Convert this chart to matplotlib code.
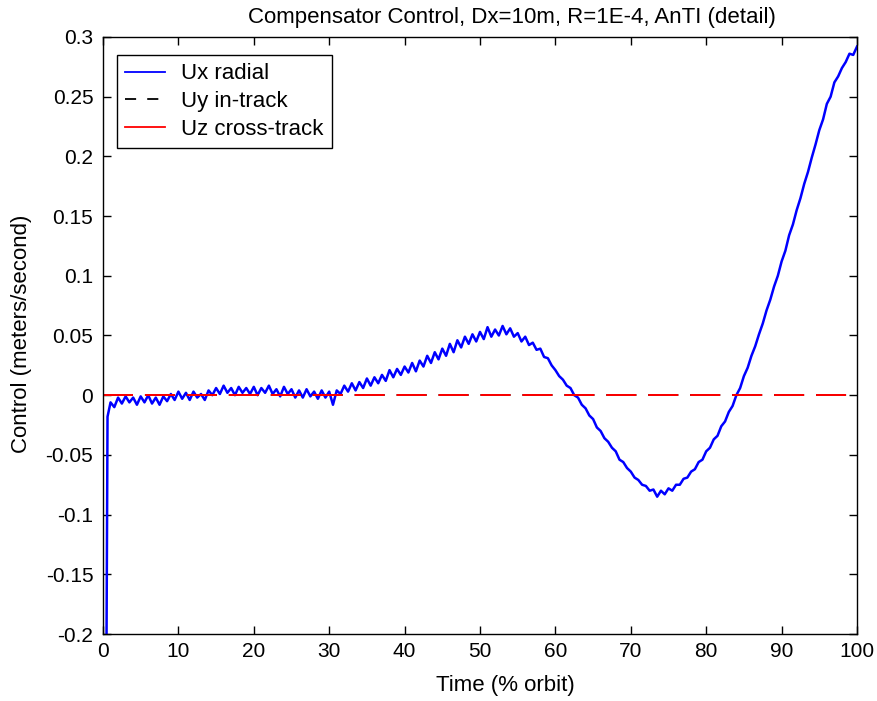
import matplotlib
matplotlib.use("Agg")
import matplotlib.pyplot as plt
from matplotlib.lines import Line2D

# ---- data ----
time_pct = [0.4, 0.6, 1.0, 1.5, 2.0, 2.5, 3.0, 3.5, 4.0, 4.5, 5.0, 5.5, 6.0, 6.5, 7.0, 7.5, 8.0, 8.5, 9.0, 9.5,
            10.0, 10.5, 11.0, 11.5, 12.0, 12.5, 13.0, 13.5, 14.0, 14.5, 15.0, 15.5, 16.0, 16.5, 17.0, 17.5, 18.0, 18.5, 19.0, 19.5,
            20.0, 20.5, 21.0, 21.5, 22.0, 22.5, 23.0, 23.5, 24.0, 24.5, 25.0, 25.5, 26.0, 26.5, 27.0, 27.5, 28.0, 28.5, 29.0, 29.5,
            30.0, 30.5, 31.0, 31.5, 32.0, 32.5, 33.0, 33.5, 34.0, 34.5, 35.0, 35.5, 36.0, 36.5, 37.0, 37.5, 38.0, 38.5, 39.0, 39.5,
            40.0, 40.5, 41.0, 41.5, 42.0, 42.5, 43.0, 43.5, 44.0, 44.5, 45.0, 45.5, 46.0, 46.5, 47.0, 47.5, 48.0, 48.5, 49.0, 49.5,
            50.0, 50.5, 51.0, 51.5, 52.0, 52.5, 53.0, 53.5, 54.0, 54.5, 55.0, 55.5, 56.0, 56.5, 57.0, 57.5, 58.0, 58.5, 59.0, 59.5,
            60.0, 60.5, 61.0, 61.5, 62.0, 62.5, 63.0, 63.5, 64.0, 64.5, 65.0, 65.5, 66.0, 66.5, 67.0, 67.5, 68.0, 68.5, 69.0, 69.5,
            70.0, 70.5, 71.0, 71.5, 72.0, 72.5, 73.0, 73.5, 74.0, 74.5, 75.0, 75.5, 76.0, 76.5, 77.0, 77.5, 78.0, 78.5, 79.0, 79.5,
            80.0, 80.5, 81.0, 81.5, 82.0, 82.5, 83.0, 83.5, 84.0, 84.5, 85.0, 85.5, 86.0, 86.5, 87.0, 87.5, 88.0, 88.5, 89.0, 89.5,
            90.0, 90.5, 91.0, 91.5, 92.0, 92.5, 93.0, 93.5, 94.0, 94.5, 95.0, 95.5, 96.0, 96.5, 97.0, 97.5, 98.0, 98.5, 99.0, 99.5,
            100.0]

ux_radial = [-0.300, -0.018, -0.006, -0.010, -0.002, -0.007, -0.001, -0.006, -0.002, -0.008, -0.001, -0.006, 0.000, -0.007, -0.002, -0.008, -0.001, -0.005, 0.001, -0.004,
             0.003, -0.003, 0.002, -0.004, 0.003, -0.002, 0.001, -0.004, 0.004, 0.000, 0.006, 0.001, 0.008, 0.002, 0.006, 0.000, 0.007, 0.002, 0.006, 0.001,
             0.007, 0.000, 0.006, 0.002, 0.008, 0.001, 0.005, -0.001, 0.007, 0.001, 0.005, -0.002, 0.004, -0.002, 0.005, -0.001, 0.003, -0.003, 0.004, -0.002,
             0.003, -0.008, 0.004, 0.001, 0.008, 0.003, 0.010, 0.004, 0.011, 0.006, 0.014, 0.008, 0.015, 0.010, 0.017, 0.012, 0.021, 0.015, 0.022, 0.017,
             0.024, 0.019, 0.027, 0.020, 0.029, 0.024, 0.033, 0.027, 0.036, 0.030, 0.039, 0.033, 0.043, 0.036, 0.046, 0.040, 0.049, 0.043, 0.051, 0.045,
             0.053, 0.047, 0.057, 0.049, 0.055, 0.050, 0.058, 0.051, 0.056, 0.049, 0.052, 0.045, 0.049, 0.042, 0.044, 0.038, 0.039, 0.032, 0.031, 0.025,
             0.021, 0.016, 0.013, 0.008, 0.006, 0.000, -0.002, -0.008, -0.011, -0.017, -0.020, -0.027, -0.030, -0.036, -0.039, -0.044, -0.047, -0.054, -0.056, -0.061,
             -0.064, -0.069, -0.071, -0.075, -0.076, -0.080, -0.079, -0.085, -0.080, -0.083, -0.078, -0.080, -0.075, -0.075, -0.070, -0.069, -0.064, -0.062, -0.056, -0.054,
             -0.047, -0.044, -0.037, -0.034, -0.026, -0.022, -0.014, -0.009, 0.000, 0.006, 0.016, 0.023, 0.033, 0.041, 0.051, 0.060, 0.071, 0.080, 0.091, 0.100,
             0.112, 0.121, 0.134, 0.143, 0.155, 0.165, 0.177, 0.187, 0.199, 0.210, 0.222, 0.231, 0.244, 0.250, 0.262, 0.267, 0.274, 0.279, 0.286, 0.285,
             0.292]

uy_x = [0, 100]
uy_intrack = [0.0, 0.0]
uz_x = [0, 100]
uz_crosstrack = [0.0, 0.0]

x_ticks = [0, 10, 20, 30, 40, 50, 60, 70, 80, 90, 100]
y_ticks = [-0.2, -0.15, -0.1, -0.05, 0, 0.05, 0.1, 0.15, 0.2, 0.25, 0.3]
y_tick_labels = ["-0.2", "-0.15", "-0.1", "-0.05", "0", "0.05", "0.1", "0.15", "0.2", "0.25", "0.3"]

title = "Compensator Control, Dx=10m, R=1E-4, AnTI (detail)"
xlabel = "Time (% orbit)"
ylabel = "Control (meters/second)"
legend_labels = ["Ux radial", "Uy in-track", "Uz cross-track"]

# ---- style ----
plt.rcParams['font.family'] = ['Liberation Sans', 'DejaVu Sans']
plt.rcParams['lines.scale_dashes'] = False
TICK_FS = 15
LABEL_FS = 16

W, H = 877, 701
fig = plt.figure(figsize=(W / 100, H / 100), dpi=100)
ax = fig.add_axes([103 / W, 1 - 634 / H, (857 - 103) / W, (634 - 37) / H])

ax.plot(time_pct, ux_radial, color='#0000ff', lw=1.8)
ax.plot(uy_x, uy_intrack, color='black', lw=1.4, dashes=(21.6, 8.6))
ax.plot(uz_x, uz_crosstrack, color='#ff0000', lw=1.4, dashes=(21.6, 8.6))

ax.set_xlim(0, 100)
ax.set_ylim(-0.2, 0.3)
ax.set_xticks(x_ticks)
ax.set_xticklabels([str(t) for t in x_ticks])
ax.set_yticks(y_ticks)
ax.set_yticklabels(y_tick_labels)
ax.tick_params(direction='in', length=5.5, width=1, top=True, right=True,
               labelsize=TICK_FS, colors='black')
ax.tick_params(axis='y', pad=7)
ax.tick_params(axis='x', pad=6)
for s in ax.spines.values():
    s.set_linewidth(1.0)
    s.set_color('black')

fig.text(248 / W, 1 - 17 / H, title, fontsize=LABEL_FS, ha='left', va='center')
fig.text(505 / W, 1 - 685 / H, xlabel, fontsize=LABEL_FS, ha='center', va='center')
fig.text(22 / W, 1 - 334 / H, ylabel, fontsize=LABEL_FS, ha='center', va='center',
         rotation=90)

handles = [Line2D([], [], color='#0000ff', lw=1.3),
           Line2D([], [], color='black', lw=1.3, dashes=(8, 8)),
           Line2D([], [], color='#ff0000', lw=1.3)]
leg = ax.legend(handles, legend_labels, loc='upper left',
                bbox_to_anchor=((117 - 103) / 754, (634 - 55) / 597),
                fontsize=LABEL_FS, frameon=True, fancybox=False,
                edgecolor='black', framealpha=1, borderaxespad=0,
                handlelength=1.8, handletextpad=0.7,
                labelspacing=0.3, borderpad=0.38)
leg.get_frame().set_linewidth(1.0)

fig.savefig("out.png", dpi=100)
